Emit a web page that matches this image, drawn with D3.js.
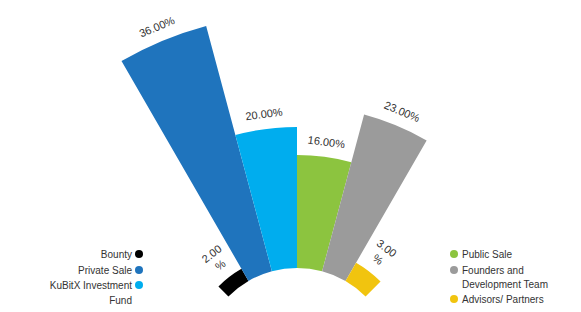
<!DOCTYPE html>
<html>
<head>
<meta charset="utf-8">
<script src="https://cdn.jsdelivr.net/npm/d3@7/dist/d3.min.js"></script>
<style>
  body { margin: 0; background: #fff; }
  text { font-family: "Liberation Sans", Arial, sans-serif; fill: #333; }
</style>
</head>
<body>
<div id="chart"></div>
<script>

// token allocation
var categories = ["Bounty", "Private Sale", "KuBitX Investment Fund", "Public Sale", "Founders and Development Team", "Advisors/ Partners"];
var values = [2, 36, 20, 16, 23, 3];
var colors = ["#000000", "#1f74bd", "#00adee", "#8cc43f", "#9b9b9b", "#f1c40f"];

// legend lines (wrapped as in the original)
var legendLines = [["Bounty"], ["Private Sale"], ["KuBitX Investment", "Fund"], ["Public Sale"], ["Founders and", "Development Team"], ["Advisors/ Partners"]];

var width = 581,
    height = 312;

var cx = 297, cy = 365;

var svg = d3.select("#chart").append("svg")
            .attr("width", width)
            .attr("height", height);

var g = svg.append("g")
           .attr("transform", "translate(" + cx + "," + cy + ")");

// angle: one equal slot per category, from -45deg to 45deg
var angle = d3.scaleBand()
              .domain(categories)
              .range([-Math.PI / 4, Math.PI / 4])
              .padding(0);

// radius grows with the value, starting at the inner hole
var radius = d3.scaleLinear()
               .domain([0, d3.max(values)])
               .range([97, 351]);

var data = categories.map(function(c, i) {
  return {name: c, value: values[i], color: colors[i]};
});

var arc = d3.arc()
            .innerRadius(radius(0))
            .outerRadius(function(d) { return radius(d.value); })
            .startAngle(function(d) { return angle(d.name); })
            .endAngle(function(d) { return angle(d.name) + angle.bandwidth(); });

g.selectAll("path.slice")
 .data(data)
 .enter()
 .append("path")
 .attr("class", "slice")
 .attr("d", arc)
 .attr("fill", function(d) { return d.color; });

// labels, tangent to the outer edge
var labels = g.selectAll("g.lbl")
  .data(data)
  .enter()
  .append("g")
  .attr("class", "lbl")
  .attr("transform", function(d) {
    var a = angle(d.name) + angle.bandwidth() / 2;
    var deg = a * 180 / Math.PI;
    return "rotate(" + deg + ") translate(0," + (-(radius(d.value) + 15)) + ")";
  });

labels.each(function(d) {
  var txt = d.value.toFixed(2) + "%";
  // small slices wrap the label onto two lines
  var lines = d.value < 5 ? [d.value.toFixed(2), "%"] : [txt];
  var t = d3.select(this).append("text")
            .attr("text-anchor", "middle")
            .style("font-size", "11px");
  lines.forEach(function(l, i) {
    t.append("tspan")
     .attr("x", 0)
     .attr("y", (i - (lines.length - 1)) * 14)
     .attr("dy", "0.35em")
     .text(l);
  });
});

// legends
var leftItems = data.slice(0, 3), rightItems = data.slice(3);
var rowY = [254, 270, 285];
var rowYRight = [254, 270, 299];

var leftLeg = svg.selectAll("g.legL")
  .data(leftItems)
  .enter()
  .append("g")
  .attr("class", "legL")
  .attr("transform", function(d, i) { return "translate(139," + rowY[i] + ")"; });

leftLeg.append("circle")
  .attr("r", 4)
  .attr("fill", function(d) { return d.color; });

leftLeg.append("text")
  .attr("text-anchor", "end")
  .style("font-size", "10px")
  .each(function(d, i) {
    var t = d3.select(this);
    legendLines[i].forEach(function(l, j) {
      t.append("tspan").attr("x", -7).attr("y", j * 15).attr("dy", "0.35em").text(l);
    });
  });

var rightLeg = svg.selectAll("g.legR")
  .data(rightItems)
  .enter()
  .append("g")
  .attr("class", "legR")
  .attr("transform", function(d, i) { return "translate(454," + rowYRight[i] + ")"; });

rightLeg.append("circle")
  .attr("r", 4)
  .attr("fill", function(d) { return d.color; });

rightLeg.append("text")
  .style("font-size", "10px")
  .each(function(d, i) {
    var t = d3.select(this);
    legendLines[i + 3].forEach(function(l, j) {
      t.append("tspan").attr("x", 8).attr("y", j * 14).attr("dy", "0.35em").text(l);
    });
  });

</script>
</body>
</html>
